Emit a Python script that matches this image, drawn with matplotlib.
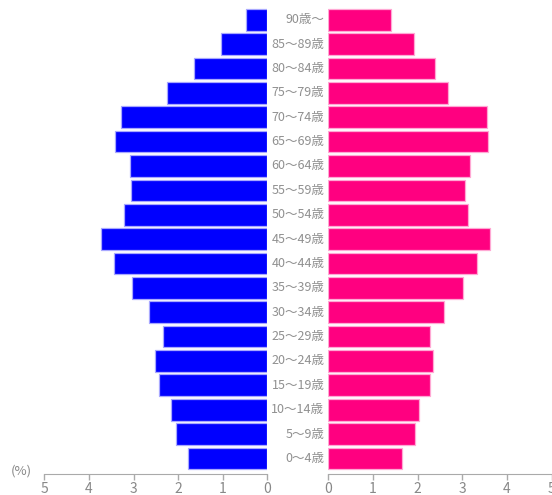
import matplotlib.pyplot as plt

plt.rcParams['font.family'] = ['Noto Sans CJK JP', 'DejaVu Sans']

# 年齢階級（下から上）
ages = ["0～4歳", "5～9歳", "10～14歳", "15～19歳", "20～24歳", "25～29歳",
        "30～34歳", "35～39歳", "40～44歳", "45～49歳", "50～54歳", "55～59歳",
        "60～64歳", "65～69歳", "70～74歳", "75～79歳", "80～84歳", "85～89歳",
        "90歳～"]
male = [1.77, 2.05, 2.16, 2.44, 2.52, 2.34, 2.66, 3.04, 3.43, 3.72,
        3.22, 3.05, 3.09, 3.41, 3.29, 2.24, 1.64, 1.04, 0.48]
female = [1.65, 1.94, 2.04, 2.28, 2.34, 2.27, 2.59, 3.01, 3.34, 3.61,
          3.13, 3.06, 3.18, 3.58, 3.55, 2.68, 2.39, 1.91, 1.41]
ticks = [0, 1, 2, 3, 4, 5]

W, H = 552, 495
fig = plt.figure(figsize=(W / 100, H / 100), dpi=100)

bottom = (H - 473.5) / H
height = (473.5 - 7.6) / H
ax_l = fig.add_axes([44.4 / W, bottom, 223 / W, height])
ax_r = fig.add_axes([328.4 / W, bottom, 223.2 / W, height])

pos = list(range(len(ages)))
ax_l.barh(pos, male, height=0.89, color='#0000ff', edgecolor='#a8a8ff', linewidth=0.9)
ax_r.barh(pos, female, height=0.89, color='#ff0080', edgecolor='#ffa8d4', linewidth=0.9)

ax_l.set_xlim(5, 0)
ax_r.set_xlim(0, 5)

for ax in (ax_l, ax_r):
    ax.set_ylim(-0.62, len(ages) - 0.5)
    for s in ('top', 'left', 'right'):
        ax.spines[s].set_visible(False)
    ax.spines['bottom'].set_color('#aaaaaa')
    ax.set_yticks([])
    ax.set_xticks(ticks)
    ax.tick_params(axis='x', colors='#aaaaaa', labelcolor='#888888',
                   length=4, width=1, labelsize=10, pad=2)
    ax.patch.set_alpha(0)

for i, a in enumerate(ages):
    ax_r.text(-0.09, i, a, ha='right', va='center', fontsize=9.0,
              color='#909090', clip_on=False)

fig.text(21 / W, (H - 471) / H, "(%)", ha='center', va='center',
         fontsize=9.5, color='#888888')

fig.savefig('out.png', dpi=100)
